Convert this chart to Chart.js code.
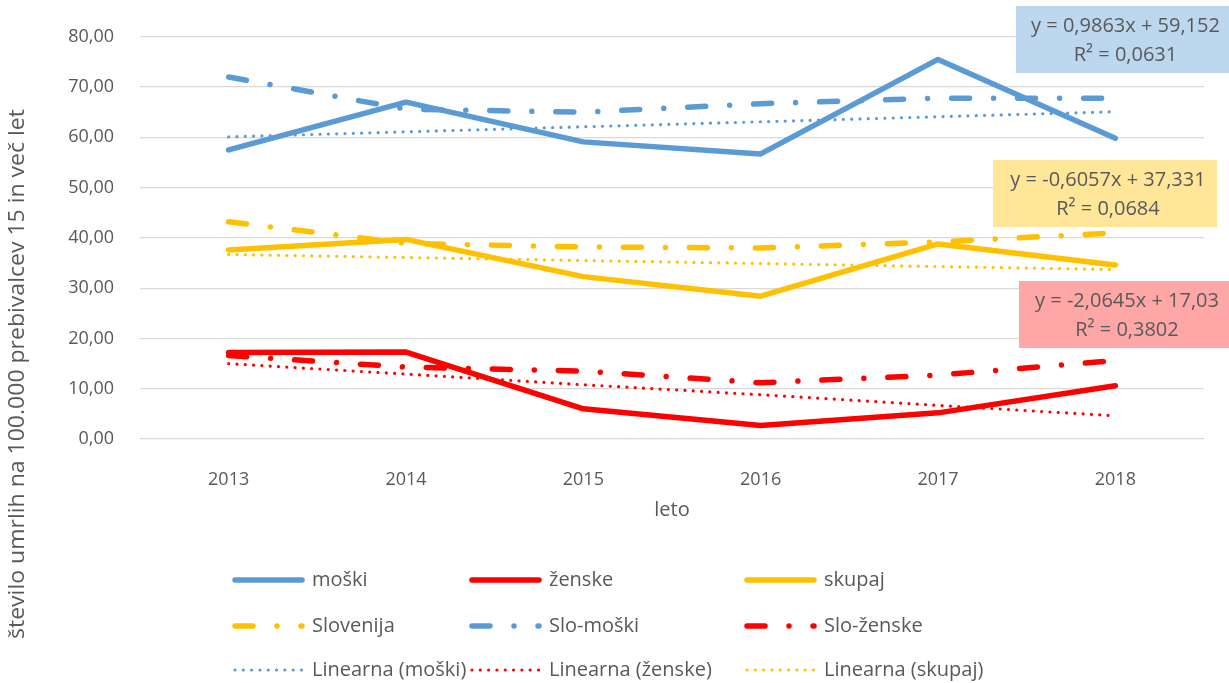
<!DOCTYPE html>
<html>
<head>
<meta charset="utf-8">
<script src="https://cdn.jsdelivr.net/npm/chart.js"></script>
<style>
  html, body { margin: 0; padding: 0; background: #fff; }
  canvas { display: block; }
</style>
</head>
<body>
<canvas id="chart" width="1229" height="683"></canvas>
<script>
// data
const years = ['2013', '2014', '2015', '2016', '2017', '2018'];
const moski = [57.5, 67.0, 59.1, 56.7, 75.5, 59.8];
const zenske = [17.2, 17.3, 6.0, 2.7, 5.2, 10.6];
const skupaj = [37.6, 39.7, 32.3, 28.4, 38.8, 34.6];
const slovenija = [43.2, 38.9, 38.2, 38.0, 39.2, 41.0];
const sloMoski = [72.0, 65.6, 65.0, 66.7, 67.8, 67.8];
const sloZenske = [16.6, 14.3, 13.5, 11.2, 12.7, 15.6];
const trendMoski = [60.1, 61.1, 62.1, 63.1, 64.1, 65.1];
const trendZenske = [15.0, 12.9, 10.8, 8.8, 6.7, 4.6];
const trendSkupaj = [36.7, 36.1, 35.5, 34.9, 34.3, 33.7];
const yTicks = [0, 10, 20, 30, 40, 50, 60, 70, 80];

const equations = [
  { lines: ['y = 0,9863x + 59,152', 'R² = 0,0631'], fill: '#BDD7EE', box: [1016, 6, 213, 67] },
  { lines: ['y = -0,6057x + 37,331', 'R² = 0,0684'], fill: '#FFE699', box: [993, 160, 224, 67] },
  { lines: ['y = -2,0645x + 17,03', 'R² = 0,3802'], fill: '#FFA7A7', box: [1019, 281, 210, 67] }
];

const BLUE = '#5B9BD5', RED = '#FF0000', YELLOW = '#FFC000';
const TXT = '#595959';
const FONT = '"Open Sans", "Liberation Sans", sans-serif';
const DASHDOT = [18, 24, 0.01, 24];
const DOTS = [0.01, 8.3];

const solid = (label, data, color) => ({ label, data, borderColor: color, borderWidth: 5.5, borderDash: [], borderCapStyle: 'round', borderJoinStyle: 'round' });
const dashed = (label, data, color) => ({ label, data, borderColor: color, borderWidth: 5.5, borderDash: DASHDOT, borderCapStyle: 'round', borderJoinStyle: 'round' });
const dotted = (label, data, color) => ({ label, data, borderColor: color, borderWidth: 3.2, borderDash: DOTS, borderCapStyle: 'round', borderJoinStyle: 'round' });

const datasets = [
  solid('moški', moski, BLUE),
  solid('ženske', zenske, RED),
  solid('skupaj', skupaj, YELLOW),
  dashed('Slovenija', slovenija, YELLOW),
  dashed('Slo-moški', sloMoski, BLUE),
  dashed('Slo-ženske', sloZenske, RED),
  dotted('Linearna (moški)', trendMoski, BLUE),
  dotted('Linearna (ženske)', trendZenske, RED),
  dotted('Linearna (skupaj)', trendSkupaj, YELLOW)
];

// legend grid: 3 columns x 3 rows
const legendCols = [233, 470, 745];
const legendRows = [580, 626, 670];

const extras = {
  id: 'extras',
  afterDraw(chart) {
    const ctx = chart.ctx;
    ctx.save();

    // equation boxes
    equations.forEach(eq => {
      const [x, y, w, h] = eq.box;
      ctx.fillStyle = eq.fill;
      ctx.fillRect(x, y, w, h);
      ctx.fillStyle = TXT;
      ctx.font = '20px ' + FONT;
      ctx.textAlign = 'center';
      ctx.textBaseline = 'middle';
      ctx.fillText(eq.lines[0], x + w / 2 + 3, y + 20);
      ctx.fillText(eq.lines[1], x + w / 2 + 3, y + 49);
    });

    // x axis title
    ctx.fillStyle = TXT;
    ctx.font = '20px ' + FONT;
    ctx.textAlign = 'center';
    ctx.textBaseline = 'middle';
    ctx.fillText('leto', (chart.chartArea.left + chart.chartArea.right) / 2, 510);

    // y axis title, condensed
    const yTitle = 'število umrlih na 100.000 prebivalcev 15 in več let';
    ctx.save();
    ctx.translate(18, 374);
    ctx.rotate(-Math.PI / 2);
    ctx.font = '21px ' + FONT;
    const tw = ctx.measureText(yTitle).width;
    ctx.scale(530 / tw, 1);
    ctx.fillText(yTitle, 0, 0);
    ctx.restore();

    // legend
    chart.data.datasets.forEach((ds, i) => {
      const x = legendCols[i % 3];
      const y = legendRows[Math.floor(i / 3)];
      ctx.save();
      ctx.strokeStyle = ds.borderColor;
      ctx.lineWidth = ds.borderWidth;
      ctx.lineCap = 'round';
      ctx.setLineDash(ds.borderDash);
      ctx.beginPath();
      ctx.moveTo(x + 2, y);
      ctx.lineTo(x + 69, y);
      ctx.stroke();
      ctx.restore();
      ctx.fillStyle = TXT;
      ctx.font = '20px ' + FONT;
      ctx.textAlign = 'left';
      ctx.textBaseline = 'middle';
      ctx.fillText(ds.label, x + 79, y);
    });

    ctx.restore();
  }
};

new Chart(document.getElementById('chart'), {
  type: 'line',
  data: { labels: years, datasets },
  options: {
    responsive: false,
    animation: false,
    devicePixelRatio: 1,
    layout: { padding: { left: 0, right: 25, top: 35, bottom: 0 } },
    elements: { point: { radius: 0 }, line: { tension: 0 } },
    plugins: { legend: { display: false }, tooltip: { enabled: false } },
    scales: {
      x: {
        offset: true,
        grid: { display: false, offset: true },
        border: { display: false },
        ticks: { color: TXT, font: { family: FONT, size: 18 }, padding: 22 },
        afterFit: s => { s.height = 244; }
      },
      y: {
        min: 0,
        max: 80,
        afterBuildTicks: s => { s.ticks = yTicks.map(v => ({ value: v })); },
        grid: { color: '#D9D9D9', lineWidth: 1.3, drawTicks: false },
        border: { display: false },
        ticks: {
          color: TXT,
          font: { family: FONT, size: 18 },
          padding: 26,
          callback: v => v.toFixed(2).replace('.', ',')
        },
        afterFit: s => { s.width = 140; }
      }
    }
  },
  plugins: [extras]
});
</script>
</body>
</html>
